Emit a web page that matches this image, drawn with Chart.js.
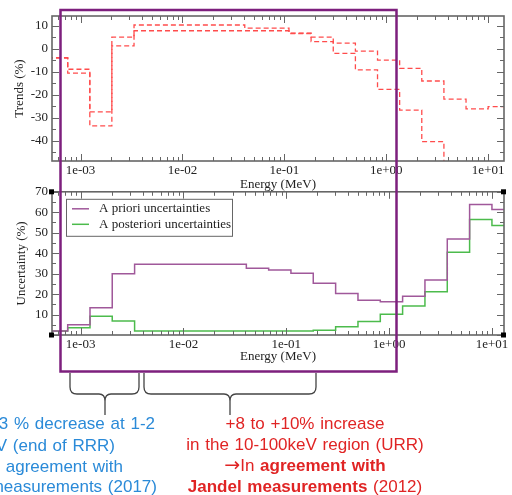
<!DOCTYPE html>
<html lang="en">
<head>
  <meta charset="UTF-8">
  <title>Trends and uncertainties vs energy</title>
  <script src="https://cdn.jsdelivr.net/npm/chart.js@4"></script>
  <style>
    body { margin: 0; background: #fff; }
    #wrap { position: relative; width: 512px; height: 495px; overflow: hidden; }
    #wrap canvas { position: absolute; left: 0; }
    #topChart { top: 0; }
    #bottomChart { top: 180px; }
    #overlay { position: absolute; left: 0; top: 0; }
    .note {
      position: absolute;
      font-family: "Liberation Sans", Arial, sans-serif;
      font-size: 17px;
      line-height: 21px;
      word-spacing: 1px;
      white-space: nowrap;
    }
    .arrow { font-family: "DejaVu Sans", sans-serif; font-size: 19px; line-height: 10px; }
    .blue { color: #2a8ad8; text-align: right; }
    .red { color: #e02424; text-align: center; left: 155px; width: 300px; top: 413px; }
  </style>
</head>
<body>
<div id="wrap">
  <canvas id="topChart" width="512" height="192"></canvas>
  <canvas id="bottomChart" width="512" height="184"></canvas>

  <!-- highlight box and braces -->
  <svg id="overlay" width="512" height="495">
    <rect x="60.5" y="10" width="336" height="361.5" fill="none" stroke="#7d1f7d" stroke-width="2.5"/>
    <g fill="none" stroke="#444" stroke-width="1.3">
      <path d="M70,373 L70,387 Q70,394 77,394 L99,394 Q105,394 105,401 L105,415 M105,401 Q105,394 111,394 L132,394 Q139,394 139,387 L139,373"/>
      <path d="M144,373 L144,387 Q144,394 151,394 L224,394 Q230,394 230,401 L230,415 M230,401 Q230,394 236,394 L309,394 Q316,394 316,387 L316,373"/>
    </g>
  </svg>

  <div class="note blue" style="right:357px; top:413px;">-33 % decrease at 1-2</div>
  <div class="note blue" style="right:397px; top:435px;">keV (end of RRR)</div>
  <div class="note blue" style="right:389px; top:456px;"><span class="arrow">&rarr;</span>In agreement with</div>
  <div class="note blue" style="right:355px; top:476px;">measurements (2017)</div>

  <div class="note red">
    +8 to +10% increase<br>
    in the 10-100keV region (URR)<br>
    <span class="arrow">&rarr;</span>In <b>agreement with</b><br>
    <b>Jandel measurements</b> (2012)
  </div>
</div>

<script>
  // Group boundaries in MeV (0.5 lethargy steps below 10 MeV)
  var energyBounds = [4e-4, 7.49e-4, 1.234e-3, 2.03e-3, 3.35e-3, 0.0409, 0.0674, 0.111, 0.183,
                      0.302, 0.498, 0.821, 1.353, 2.231, 3.679, 6.065, 10, 20];

  // Trends (%) per group, two curves
  var trendUpper = [-3.9, -8.9, -27.4, 5.0, 10.3, 8.9, 8.9, 6.8, 5.0, 2.4, -1.0, -4.9, -8.5, -14.0, -21.9, -26.1, -25.1];
  var trendLower = [-4.1, -10.6, -33.5, 1.2, 7.8, 7.8, 7.8, 6.6, 3.1, -2.0, -9.2, -17.6, -26.6, -40.3, -60, -60, -60];

  // Uncertainties (%) per group
  var aprioriUnc = [2.0, 5.0, 13.3, 29.9, 34.6, 32.6, 31.8, 30.2, 25.3, 20.3, 17.0, 16.2, 19.0, 26.9, 46.9, 63.8, 61.4];
  var aposterioriUnc = [2.0, 3.6, 9.2, 6.9, 1.9, 1.9, 1.9, 1.9, 2.3, 4.0, 6.6, 10.1, 14.2, 21.1, 40.5, 56.4, 53.5];

  // Axis ticks
  var xTickValues = [1e-3, 1e-2, 1e-1, 1, 10];
  var xTickLabels = ['1e-03', '1e-02', '1e-01', '1e+00', '1e+01'];
  var trendTicks = [-40, -30, -20, -10, 0, 10];
  var uncTicks = [10, 20, 30, 40, 50, 60, 70];

  Chart.defaults.font.family = '"Liberation Serif", "Times New Roman", serif';
  Chart.defaults.font.size = 13;
  Chart.defaults.color = '#222';

  // turn per-group values into a step outline
  function stepPoints(values) {
    var pts = [];
    for (var i = 0; i < values.length; i++) {
      pts.push({x: energyBounds[i], y: values[i]});
      pts.push({x: energyBounds[i + 1], y: values[i]});
    }
    return pts;
  }

  // frame with inward ticks on all four sides
  var frameTicks = {
    id: 'frameTicks',
    afterDraw: function(chart, args, opts) {
      var ctx = chart.ctx, a = chart.chartArea;
      var x = chart.scales.x, y = chart.scales.y;
      ctx.save();
      ctx.strokeStyle = '#666';
      ctx.lineWidth = 1;
      ctx.beginPath();
      var d0 = Math.floor(Math.log10(x.min)), d1 = Math.ceil(Math.log10(x.max));
      for (var d = d0; d <= d1; d++) {
        for (var k = 1; k <= 9; k++) {
          var v = k * Math.pow(10, d);
          if (v < x.min || v > x.max) continue;
          var px = Math.round(x.getPixelForValue(v)) + 0.5;
          var len = k === 1 ? 7 : 4;
          ctx.moveTo(px, a.bottom); ctx.lineTo(px, a.bottom - len);
          ctx.moveTo(px, a.top); ctx.lineTo(px, a.top + len);
        }
      }
      for (var t = Math.ceil(y.min / opts.minor) * opts.minor; t <= y.max; t += opts.minor) {
        var py = Math.round(y.getPixelForValue(t)) + 0.5;
        var l = (t % opts.major === 0) ? 7 : 4;
        ctx.moveTo(a.left, py); ctx.lineTo(a.left + l, py);
        ctx.moveTo(a.right, py); ctx.lineTo(a.right - l, py);
      }
      ctx.stroke();
      ctx.lineWidth = 1.6;
      ctx.strokeRect(a.left, a.top, a.right - a.left, a.bottom - a.top);
      if (opts.handles) {
        ctx.fillStyle = '#000';
        [[a.left, a.top], [a.left, a.bottom], [a.right, a.top], [a.right, a.bottom]].forEach(function(c) {
          ctx.fillRect(c[0] - 3, c[1] - 2.5, 5, 5);
        });
      }
      ctx.restore();
    }
  };

  // legend box inside the plot
  var insideLegend = {
    id: 'insideLegend',
    afterDraw: function(chart, args, opts) {
      if (!opts.show) return;
      var ctx = chart.ctx, a = chart.chartArea;
      var bx = a.left + 14, by = a.top + 7, bw = 166, bh = 37;
      ctx.save();
      ctx.fillStyle = '#fff';
      ctx.fillRect(bx, by, bw, bh);
      ctx.strokeStyle = '#666';
      ctx.lineWidth = 1;
      ctx.strokeRect(bx + 0.5, by + 0.5, bw, bh);
      ctx.font = '13px "Liberation Serif", "Times New Roman", serif';
      ctx.textBaseline = 'middle';
      chart.data.datasets.forEach(function(ds, i) {
        var ly = by + 10 + i * 15.5;
        ctx.strokeStyle = ds.borderColor;
        ctx.lineWidth = 1.5;
        ctx.beginPath();
        ctx.moveTo(bx + 6, ly); ctx.lineTo(bx + 23, ly);
        ctx.stroke();
        ctx.fillStyle = '#222';
        ctx.fillText(ds.label, bx + 33, ly);
      });
      ctx.restore();
    }
  };

  function makeChart(id, cfg) {
    return new Chart(document.getElementById(id), {
      type: 'line',
      data: { datasets: cfg.datasets },
      options: {
        responsive: false,
        animation: false,
        devicePixelRatio: 1,
        layout: { padding: { left: 0, top: cfg.padTop, right: 8, bottom: 0 } },
        plugins: {
          legend: { display: false },
          tooltip: { enabled: false },
          frameTicks: { minor: 5, major: 10, handles: cfg.handles },
          insideLegend: { show: cfg.legend }
        },
        elements: { point: { radius: 0 }, line: { tension: 0 } },
        scales: {
          x: {
            type: 'logarithmic',
            min: cfg.xMin, max: cfg.xMax,
            grid: { display: false, drawTicks: false },
            border: { display: false },
            afterBuildTicks: function(s) { s.ticks = xTickValues.map(function(v) { return {value: v}; }); },
            afterFit: function(s) { s.height = cfg.xHeight; },
            ticks: {
              autoSkip: false, maxRotation: 0, padding: 2,
              callback: function(v, i) { return xTickLabels[i]; }
            },
            title: { display: true, text: 'Energy (MeV)', padding: { top: 0, bottom: 0 } }
          },
          y: {
            min: cfg.yMin, max: cfg.yMax,
            grid: { display: false, drawTicks: false },
            border: { display: false },
            afterBuildTicks: function(s) { s.ticks = cfg.yTicks.map(function(v) { return {value: v}; }); },
            afterFit: function(s) { s.width = 52; },
            ticks: { padding: 4 },
            title: { display: true, text: cfg.yTitle, padding: { top: cfg.yTitlePad, bottom: 0 } }
          }
        }
      },
      plugins: [frameTicks, insideLegend]
    });
  }

  makeChart('topChart', {
    padTop: 16, xHeight: 31, xMin: 5.25e-4, xMax: 14.3,
    yMin: -48.7, yMax: 14.2, yTicks: trendTicks, yTitle: 'Trends (%)', yTitlePad: 12,
    handles: false, legend: false,
    datasets: [
      { label: 'Trend 1', data: stepPoints(trendUpper), borderColor: '#ff4c4c', borderWidth: 1.3, borderDash: [5, 3] },
      { label: 'Trend 2', data: stepPoints(trendLower), borderColor: '#ff4c4c', borderWidth: 1.3, borderDash: [5, 3] }
    ]
  });

  makeChart('bottomChart', {
    padTop: 11, xHeight: 29, xMin: 5.27e-4, xMax: 13.1,
    yMin: 0, yMax: 70, yTicks: uncTicks, yTitle: 'Uncertainty (%)', yTitlePad: 14,
    handles: true, legend: true,
    datasets: [
      { label: 'A priori uncertainties', data: stepPoints(aprioriUnc), borderColor: '#a0589a', borderWidth: 1.5 },
      { label: 'A posteriori uncertainties', data: stepPoints(aposterioriUnc), borderColor: '#4cbb4c', borderWidth: 1.5 }
    ]
  });
</script>
</body>
</html>
